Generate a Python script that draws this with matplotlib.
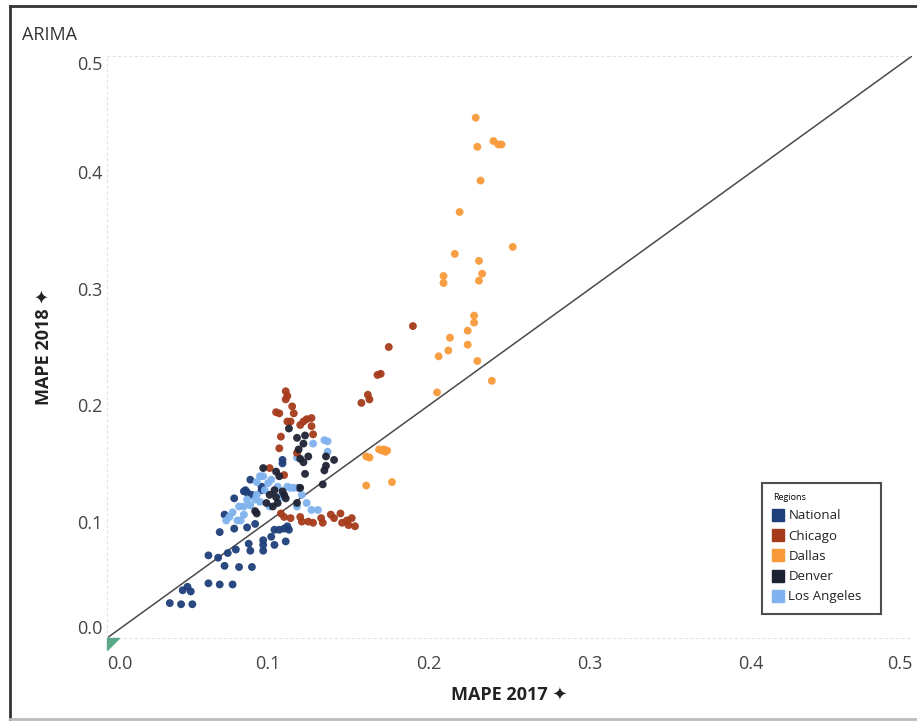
import matplotlib.pyplot as plt
import numpy as np
from matplotlib.lines import Line2D
from matplotlib.path import Path

plt.rcParams['font.family'] = ['Open Sans', 'DejaVu Sans']

regions = ['National', 'Chicago', 'Dallas', 'Denver', 'Los Angeles']
colors = ['#1f3f7a', '#a63b1b', '#f89a3a', '#1e2333', '#7fb2ee']

national_x = [0.039, 0.046, 0.053, 0.047, 0.050, 0.052, 0.063, 0.070, 0.078, 0.063,
              0.069, 0.075, 0.080, 0.073, 0.082, 0.090, 0.070, 0.079, 0.087, 0.092,
              0.088, 0.089, 0.097, 0.097, 0.097, 0.104, 0.102, 0.104, 0.107, 0.110,
              0.112, 0.113, 0.111, 0.073, 0.079, 0.085, 0.087, 0.090, 0.096, 0.109,
              0.109, 0.119, 0.089, 0.086, 0.096]
national_y = [0.030, 0.029, 0.029, 0.041, 0.044, 0.040, 0.047, 0.046, 0.046, 0.071,
              0.069, 0.073, 0.076, 0.062, 0.061, 0.061, 0.091, 0.094, 0.095, 0.098,
              0.081, 0.075, 0.084, 0.080, 0.075, 0.080, 0.087, 0.093, 0.093, 0.094,
              0.096, 0.093, 0.083, 0.106, 0.120, 0.126, 0.125, 0.123, 0.130, 0.153,
              0.150, 0.129, 0.136, 0.127, 0.127]

chicago_x = [0.111, 0.112, 0.111, 0.115, 0.116, 0.105, 0.107, 0.112, 0.114, 0.120,
             0.122, 0.124, 0.127, 0.127, 0.128, 0.108, 0.107, 0.101, 0.110, 0.118,
             0.108, 0.110, 0.114, 0.120, 0.121, 0.125, 0.128, 0.133, 0.134, 0.139,
             0.141, 0.145, 0.146, 0.149, 0.150, 0.152, 0.154, 0.158, 0.162, 0.163,
             0.168, 0.170, 0.175, 0.190]
chicago_y = [0.212, 0.208, 0.205, 0.199, 0.193, 0.194, 0.193, 0.186, 0.186, 0.183,
             0.186, 0.188, 0.189, 0.182, 0.175, 0.173, 0.163, 0.146, 0.140, 0.159,
             0.107, 0.104, 0.103, 0.104, 0.100, 0.100, 0.099, 0.103, 0.099, 0.106,
             0.103, 0.107, 0.099, 0.101, 0.097, 0.103, 0.096, 0.202, 0.209, 0.205,
             0.226, 0.227, 0.250, 0.268]

dallas_x = [0.229, 0.240, 0.243, 0.245, 0.230, 0.232, 0.219, 0.252, 0.216, 0.231,
            0.233, 0.231, 0.209, 0.209, 0.228, 0.228, 0.224, 0.213, 0.224, 0.212,
            0.206, 0.230, 0.239, 0.205, 0.161, 0.163, 0.169, 0.171, 0.173, 0.172,
            0.174, 0.161, 0.177]
dallas_y = [0.447, 0.427, 0.424, 0.424, 0.422, 0.393, 0.366, 0.336, 0.330, 0.324,
            0.313, 0.307, 0.311, 0.305, 0.277, 0.271, 0.264, 0.258, 0.252, 0.247,
            0.242, 0.238, 0.221, 0.211, 0.156, 0.155, 0.162, 0.161, 0.160, 0.162,
            0.161, 0.131, 0.134]

denver_x = [0.097, 0.105, 0.107, 0.104, 0.105, 0.109, 0.110, 0.099, 0.103, 0.106,
            0.092, 0.093, 0.118, 0.120, 0.113, 0.118, 0.122, 0.119, 0.123, 0.120,
            0.122, 0.125, 0.123, 0.134, 0.136, 0.141, 0.136, 0.135, 0.101, 0.111]
denver_y = [0.146, 0.143, 0.139, 0.127, 0.121, 0.126, 0.123, 0.116, 0.113, 0.116,
            0.109, 0.107, 0.116, 0.129, 0.180, 0.172, 0.167, 0.162, 0.174, 0.154,
            0.151, 0.156, 0.141, 0.132, 0.156, 0.153, 0.148, 0.144, 0.123, 0.120]

la_x = [0.074, 0.081, 0.085, 0.085, 0.092, 0.097, 0.102, 0.098, 0.101, 0.112,
        0.114, 0.116, 0.118, 0.121, 0.124, 0.127, 0.131, 0.135, 0.137, 0.128,
        0.137, 0.118, 0.093, 0.106, 0.089, 0.078, 0.095, 0.100, 0.093, 0.095,
        0.107, 0.087, 0.082, 0.076, 0.083]
la_y = [0.101, 0.101, 0.106, 0.113, 0.119, 0.139, 0.136, 0.127, 0.113, 0.130,
        0.129, 0.129, 0.113, 0.123, 0.116, 0.110, 0.110, 0.170, 0.169, 0.167,
        0.160, 0.155, 0.134, 0.130, 0.114, 0.108, 0.139, 0.133, 0.123, 0.117,
        0.121, 0.119, 0.113, 0.104, 0.101]

series = [(national_x, national_y), (chicago_x, chicago_y), (dallas_x, dallas_y),
          (denver_x, denver_y), (la_x, la_y)]

fig = plt.figure(figsize=(9.17, 7.21), dpi=100)
ax = fig.add_axes([0.1167, 0.1151, 0.8779, 0.8072])

# draw order: national, LA, chicago, denver, dallas
for i in [0, 4, 1, 3, 2]:
    sx, sy = series[i]
    ax.scatter(sx, sy, s=32, color=colors[i], alpha=0.95, edgecolors='none', zorder=3)

ax.plot([0, 0.5], [0, 0.5], color='#4a4a4a', linewidth=1.1, zorder=2)

ax.set_xlim(0, 0.5)
ax.set_ylim(0, 0.5)
ticks = [0.0, 0.1, 0.2, 0.3, 0.4, 0.5]
ax.set_xticks(ticks)
ax.set_yticks(ticks)
ax.set_xticklabels(['%.1f' % t for t in ticks])
ax.set_yticklabels(['%.1f' % t for t in ticks])
ax.tick_params(axis='both', length=0, labelsize=13, labelcolor='#444444')
ax.tick_params(axis='x', pad=12)
ax.tick_params(axis='y', pad=3)
xl = ax.get_xticklabels()
xl[0].set_horizontalalignment('left')
xl[-1].set_horizontalalignment('right')
yl = ax.get_yticklabels()
yl[0].set_verticalalignment('bottom')
yl[-1].set_verticalalignment('top')

for s in ['left', 'bottom', 'top']:
    ax.spines[s].set_color('#e4e4e4')
    ax.spines[s].set_linestyle((0, (2, 3)))
    ax.spines[s].set_linewidth(0.8)
ax.spines['right'].set_visible(False)

ax.set_xlabel('MAPE 2017 \u2726', fontsize=13, fontweight='bold', color='#222222', labelpad=10)
ax.set_ylabel('MAPE 2018 \u2726', fontsize=13, fontweight='bold', color='#222222', labelpad=17)

# small green marker at origin
tri = Path([(0, 0), (1, 0), (0, -1), (0, 0)])
ax.plot([0], [0], marker=tri, markersize=17, color='#5aa888', clip_on=False, zorder=4)

fig.text(0.024, 0.951, 'ARIMA', fontsize=13, color='#333333', va='center', ha='left')

handles = [Line2D([], [], marker='s', linestyle='none', markersize=8, color=c) for c in colors]
leg = ax.legend(handles, regions, title='Regions', loc='lower left',
                bbox_to_anchor=(0.8137, 0.0412, 0.1478, 0.2), mode='expand',
                frameon=True, fancybox=False,
                fontsize=9.5, title_fontsize=6.5, alignment='left',
                handlelength=0.8, handletextpad=0.4, labelspacing=0.55,
                borderpad=0.8, borderaxespad=0)
leg.get_frame().set_edgecolor('#222222')
leg.get_frame().set_linewidth(1.5)
for t in leg.get_texts():
    t.set_color('#222222')

# outer frame
fig.add_artist(Line2D([0.011, 0.011], [0.0, 0.992], color='#333333', linewidth=2, transform=fig.transFigure))
fig.add_artist(Line2D([0.011, 1.0], [0.992, 0.992], color='#333333', linewidth=2, transform=fig.transFigure))
fig.add_artist(Line2D([0.011, 1.0], [0.003, 0.003], color='#bbbbbb', linewidth=2, transform=fig.transFigure))

fig.savefig('out.png', dpi=100)
